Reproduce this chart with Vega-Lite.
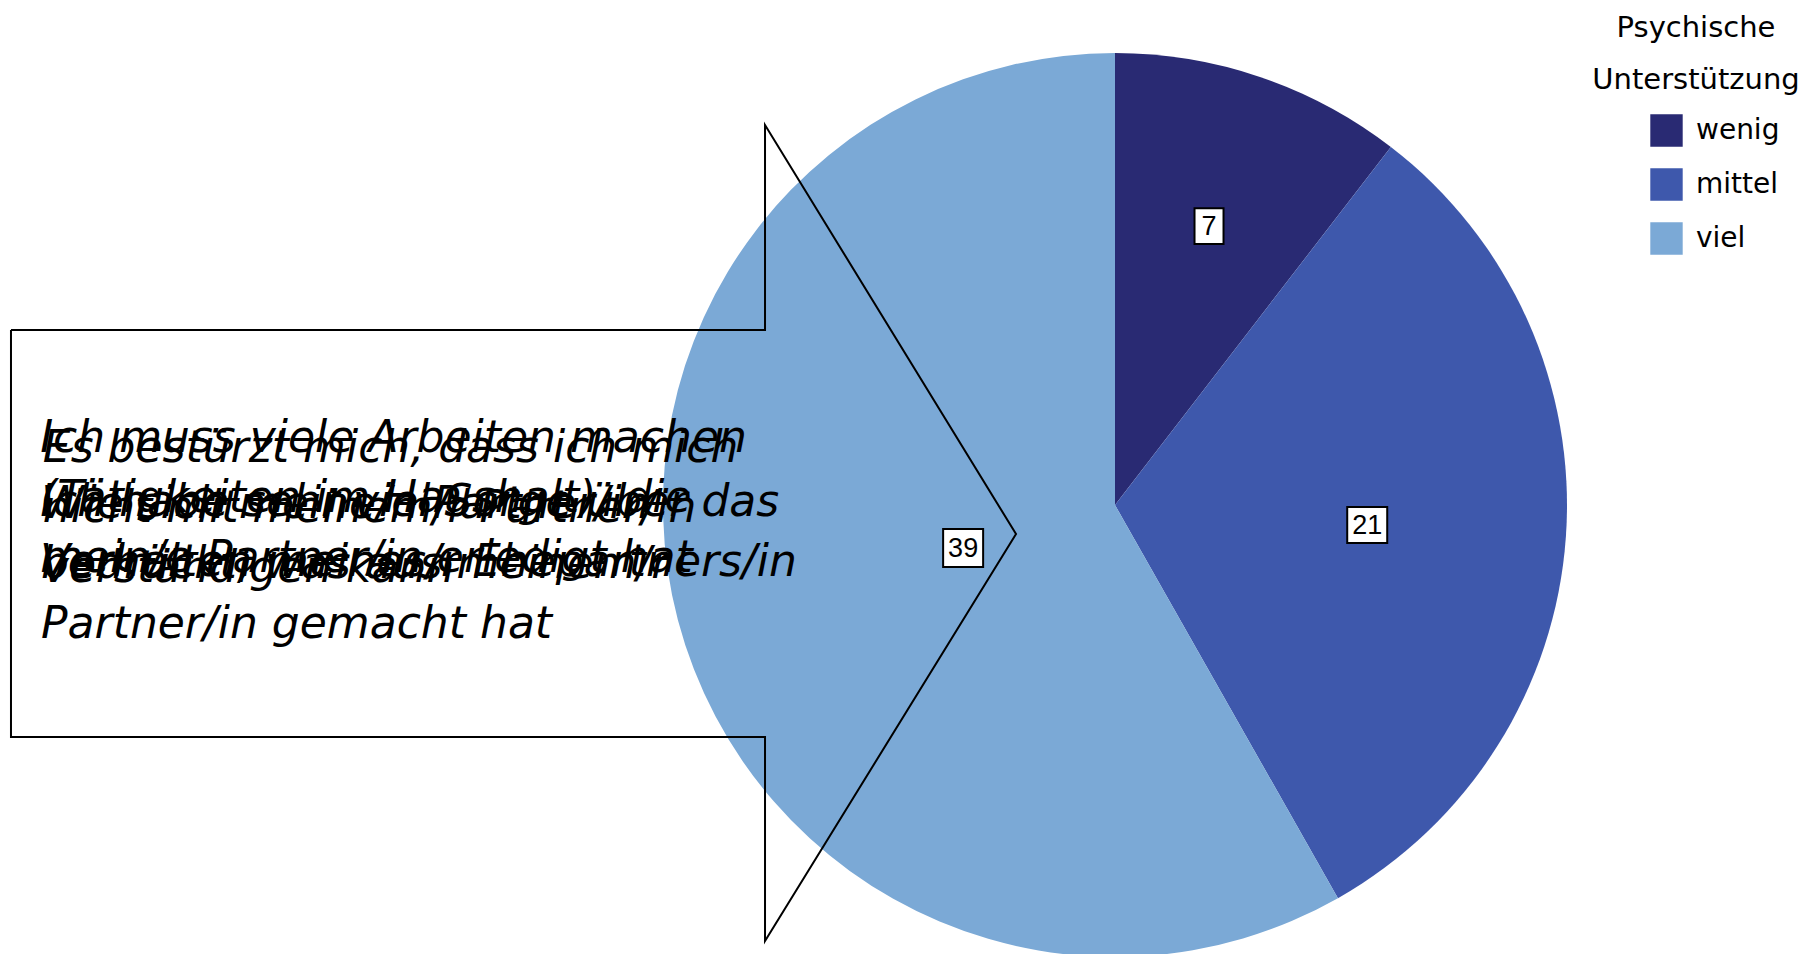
{
  "$schema": "https://vega.github.io/schema/vega-lite/v6.json",
  "width": 1811,
  "height": 954,
  "autosize": {"type": "none"},
  "padding": 0,
  "background": "white",
  "config": {"view": {"stroke": null}},
  "datasets": {
    "pie": [
      {"cat": "wenig", "n": 7, "idx": 1},
      {"cat": "mittel", "n": 21, "idx": 2},
      {"cat": "viel", "n": 39, "idx": 3}
    ],
    "callout": [
      {"seq": 1, "px": -2.4425, "py": 0.3872},
      {"seq": 2, "px": -0.7743, "py": 0.3872},
      {"seq": 3, "px": -0.7743, "py": 0.8407},
      {"seq": 4, "px": -0.219, "py": -0.0642},
      {"seq": 5, "px": -0.7743, "py": -0.9646},
      {"seq": 6, "px": -0.7743, "py": -0.5133},
      {"seq": 7, "px": -2.4425, "py": -0.5133},
      {"seq": 8, "px": -2.4425, "py": 0.3872}
    ],
    "notes": [
      {"id": "a", "lines": ["Ich muss viele Arbeiten machen", "(Tätigkeiten im Haushalt), die", "mein/e Partner/in erledigt hat"]},
      {"id": "b", "lines": ["Es bestürzt mich, dass ich mich", "nicht mit meinem/r Partner/in", "verständigen kann"]},
      {"id": "c", "lines": ["Ich habe sehr viel Sorge über das", "Verhalten meines/r Ehepartners/in"]},
      {"id": "d", "lines": ["Wie sich meine/n Partner/in", "bedrückt, was aus meinem/r", "Partner/in gemacht hat"]}
    ]
  },
  "layer": [
    {
      "data": {"name": "pie"},
      "mark": {"type": "arc", "outerRadius": 452},
      "encoding": {
        "x": {"datum": 0, "type": "quantitative", "scale": {"domain": [-2.4668, 1.5398], "nice": false, "zero": false}, "axis": null},
        "y": {"datum": 0, "type": "quantitative", "scale": {"domain": [-0.9934, 1.1173], "nice": false, "zero": false}, "axis": null},
        "theta": {"field": "n", "type": "quantitative", "stack": true},
        "order": {"field": "idx", "type": "quantitative"},
        "color": {
          "field": "cat",
          "type": "nominal",
          "scale": {"domain": ["wenig", "mittel", "viel"], "range": ["#292A73", "#3E58AC", "#7BA9D6"]},
          "legend": {
            "title": ["Psychische", "Unterstützung"],
            "orient": "none",
            "legendX": 1592,
            "legendY": 14,
            "titleFont": "Comic Sans MS, DejaVu Sans",
            "titleFontWeight": "normal",
            "titleFontSize": 29,
            "titleLineHeight": 52,
            "titleLimit": 500,
            "titleAlign": "center",
            "titleAnchor": "middle",
            "titleBaseline": "top",
            "titleColor": "black",
            "titlePadding": 19,
            "symbolType": "square",
            "symbolSize": 1050,
            "symbolStrokeWidth": 0,
            "symbolOpacity": 1,
            "symbolOffset": 38,
            "rowPadding": 21,
            "labelFont": "Comic Sans MS, DejaVu Sans",
            "labelFontSize": 28,
            "labelColor": "black",
            "labelOffset": 13,
            "labelLimit": 300
          }
        }
      }
    },
    {
      "data": {"name": "callout"},
      "mark": {"type": "line", "color": "black", "strokeWidth": 2, "strokeJoin": "miter"},
      "encoding": {
        "x": {"field": "px", "type": "quantitative"},
        "y": {"field": "py", "type": "quantitative"},
        "order": {"field": "seq", "type": "quantitative"}
      }
    },
    {
      "data": {"name": "notes"},
      "transform": [{"filter": "datum.id == 'a'"}],
      "mark": {"type": "text", "align": "left", "baseline": "alphabetic", "font": "Comic Sans MS, DejaVu Sans", "fontStyle": "italic", "fontSize": 44, "lineHeight": 60, "color": "black"},
      "encoding": {
        "x": {"datum": -2.378, "type": "quantitative"},
        "y": {"datum": 0.1173, "type": "quantitative"},
        "text": {"field": "lines"}
      }
    },
    {
      "data": {"name": "notes"},
      "transform": [{"filter": "datum.id == 'b'"}],
      "mark": {"type": "text", "align": "left", "baseline": "alphabetic", "font": "Comic Sans MS, DejaVu Sans", "fontStyle": "italic", "fontSize": 44, "lineHeight": 60, "color": "black"},
      "encoding": {
        "x": {"datum": -2.372, "type": "quantitative"},
        "y": {"datum": 0.0951, "type": "quantitative"},
        "text": {"field": "lines"}
      }
    },
    {
      "data": {"name": "notes"},
      "transform": [{"filter": "datum.id == 'c'"}],
      "mark": {"type": "text", "align": "left", "baseline": "alphabetic", "font": "Comic Sans MS, DejaVu Sans", "fontStyle": "italic", "fontSize": 44, "lineHeight": 60, "color": "black"},
      "encoding": {
        "x": {"datum": -2.378, "type": "quantitative"},
        "y": {"datum": -0.0243, "type": "quantitative"},
        "text": {"field": "lines"}
      }
    },
    {
      "data": {"name": "notes"},
      "transform": [{"filter": "datum.id == 'd'"}],
      "mark": {"type": "text", "align": "left", "baseline": "alphabetic", "font": "Comic Sans MS, DejaVu Sans", "fontStyle": "italic", "fontSize": 44, "lineHeight": 60, "color": "black"},
      "encoding": {
        "x": {"datum": -2.376, "type": "quantitative"},
        "y": {"datum": -0.0288, "type": "quantitative"},
        "text": {"field": "lines"}
      }
    },
    {
      "data": {"name": "pie"},
      "transform": [{"filter": "datum.cat == 'wenig'"}],
      "mark": {"type": "point", "shape": "M-1,-1.24L1,-1.24L1,1.24L-1,1.24Z", "size": 841, "filled": true, "fill": "white", "stroke": "black", "strokeWidth": 2, "opacity": 1},
      "encoding": {
        "x": {"datum": 0.208, "type": "quantitative"},
        "y": {"datum": 0.617, "type": "quantitative"}
      }
    },
    {
      "data": {"name": "pie"},
      "transform": [{"filter": "datum.cat == 'mittel'"}],
      "mark": {"type": "point", "shape": "M-1,-0.9L1,-0.9L1,0.9L-1,0.9Z", "size": 1600, "filled": true, "fill": "white", "stroke": "black", "strokeWidth": 2, "opacity": 1},
      "encoding": {
        "x": {"datum": 0.558, "type": "quantitative"},
        "y": {"datum": -0.044, "type": "quantitative"}
      }
    },
    {
      "data": {"name": "pie"},
      "transform": [{"filter": "datum.cat == 'viel'"}],
      "mark": {"type": "point", "shape": "M-1,-0.95L1,-0.95L1,0.95L-1,0.95Z", "size": 1600, "filled": true, "fill": "white", "stroke": "black", "strokeWidth": 2, "opacity": 1},
      "encoding": {
        "x": {"datum": -0.336, "type": "quantitative"},
        "y": {"datum": -0.095, "type": "quantitative"}
      }
    },
    {
      "data": {"name": "pie"},
      "transform": [{"filter": "datum.cat == 'wenig'"}],
      "mark": {"type": "text", "font": "Liberation Sans", "fontSize": 27, "color": "black", "baseline": "middle", "dy": 1},
      "encoding": {
        "x": {"datum": 0.208, "type": "quantitative"},
        "y": {"datum": 0.617, "type": "quantitative"},
        "text": {"field": "n"}
      }
    },
    {
      "data": {"name": "pie"},
      "transform": [{"filter": "datum.cat == 'mittel'"}],
      "mark": {"type": "text", "font": "Liberation Sans", "fontSize": 27, "color": "black", "baseline": "middle", "dy": 1},
      "encoding": {
        "x": {"datum": 0.558, "type": "quantitative"},
        "y": {"datum": -0.044, "type": "quantitative"},
        "text": {"field": "n"}
      }
    },
    {
      "data": {"name": "pie"},
      "transform": [{"filter": "datum.cat == 'viel'"}],
      "mark": {"type": "text", "font": "Liberation Sans", "fontSize": 27, "color": "black", "baseline": "middle", "dy": 1},
      "encoding": {
        "x": {"datum": -0.336, "type": "quantitative"},
        "y": {"datum": -0.095, "type": "quantitative"},
        "text": {"field": "n"}
      }
    }
  ]
}
